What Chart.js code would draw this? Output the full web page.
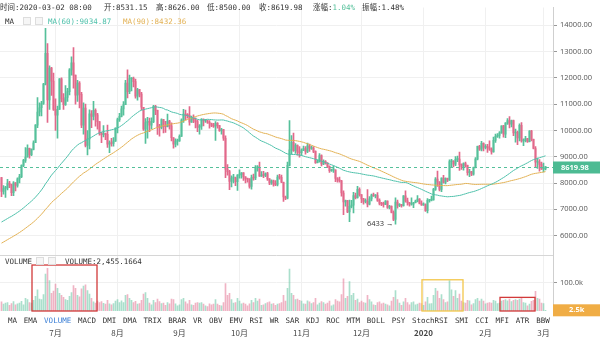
<!DOCTYPE html>
<html>
<head>
<meta charset="utf-8">
<script src="https://cdn.jsdelivr.net/npm/chart.js@4.4.0/dist/chart.umd.min.js"></script>
<style>
  body { margin: 0; background: #fff; }
  #wrap { position: relative; width: 600px; height: 341px; overflow: hidden; }
  #kline { position: absolute; left: 0; top: 0; }
  .txt { position: absolute; font-family: "DejaVu Sans Mono", "Noto Sans CJK SC", monospace; font-size: 7.5px; color: #333; white-space: nowrap; line-height: 9px; }
  .icon { position: absolute; width: 8px; height: 8px; border: 1px solid #ddd; background: #f6f6f6; box-sizing: border-box; }
  #tabs { position: absolute; left: 8px; top: 316px; width: 542px; display: flex; justify-content: space-between; }
</style>
</head>
<body>
<div id="wrap">
  <canvas id="kline" width="600" height="341"></canvas>

  <div class="txt" id="f-time" style="left:0;top:3px"></div>
  <div class="txt" id="f-open" style="left:104px;top:3px"></div>
  <div class="txt" id="f-high" style="left:156px;top:3px"></div>
  <div class="txt" id="f-low" style="left:207px;top:3px"></div>
  <div class="txt" id="f-close" style="left:259px;top:3px"></div>
  <div class="txt" id="f-chg" style="left:313px;top:3px"></div>
  <div class="txt" id="f-amp" style="left:362px;top:3px"></div>

  <div class="txt" style="left:5px;top:17px">MA</div>
  <div class="icon" style="left:23px;top:17px"></div>
  <div class="icon" style="left:35px;top:17px"></div>
  <div class="txt" id="ma60-label" style="left:48px;top:17px;color:#4fc1ab"></div>
  <div class="txt" id="ma90-label" style="left:123px;top:17px;color:#e3b255"></div>

  <div class="txt" style="left:5px;top:257px">VOLUME</div>
  <div class="icon" style="left:36px;top:257px"></div>
  <div class="icon" style="left:48px;top:257px"></div>
  <div class="txt" id="vol-label" style="left:65px;top:257px"></div>

  <div class="txt" id="tabs"></div>
</div>

<script>
// daily candles, first day 2019-06-04 (UTC 00:00 = 08:00 local)
const startDate = '2019-06-04';

// closes before the first candle, only used to seed the moving averages
const earlierCloses = [
    3870, 3880, 3860, 3940, 3920, 3870, 3880, 3870, 3870, 3910, 4000, 3980, 3990, 4020, 4040, 3980, 4000, 4010, 4000, 3940, 3950, 4040, 4040, 4110, 4110, 4110,
    4150, 4880, 4980, 4920, 5050, 5070, 5220, 5300, 5190, 5340, 5030, 5080, 5070, 5160, 5040, 5220, 5250, 5290, 5280, 5330, 5280, 5400, 5560, 5460, 5210, 5280, 5280, 5270, 5230, 5350,
    5400, 5500, 5780, 5840, 5790, 5770, 5860, 5990, 6200, 6380, 7260, 6980, 7810, 7980, 8200, 7890, 7350, 7260, 8190, 7980, 7960, 7640, 7880, 7990, 8050, 8680, 8800, 8720, 8660, 8280, 8550,
    8560, 8740, 8210
];

const closes = [
    // Jun
    7680, 7790, 7810, 8000, 7930, 7630, 8010, 7910, 8160, 8240, 8670, 8860, 8990, 9320, 9080, 9280, 9530, 10200, 10700, 10860, 11020, 11760, 12930, 11160, 12370, 11870, 10800,
    // Jul
    10580, 10800, 11960, 11200, 10980, 11250, 11470, 12300, 12570, 12100, 11340, 11800, 11370, 10200, 10850, 9430, 9680, 10630, 10530, 10760, 10590, 10330, 9900, 9840, 9880, 9850, 9480, 9530, 9500, 9590, 10090,
    // Aug
    10410, 10530, 10820, 10980, 11800, 11470, 11970, 11980, 11850, 11300, 11550, 11380, 10880, 10050, 10300, 10340, 10200, 10330, 10910, 10760, 10130, 10110, 10410, 10150, 10140, 10350, 10170, 9720, 9480, 9590, 9600,
    // Sep
    9770, 10390, 10620, 10580, 10570, 10310, 10480, 10400, 10330, 10110, 10160, 10400, 10360, 10360, 10310, 10260, 10190, 10160, 10270, 10180, 9990, 10030, 9700, 8530, 8430, 8060, 8190, 8200, 8050, 8300,
    // Oct
    8330, 8390, 8240, 8160, 8150, 7870, 8210, 8190, 8590, 8590, 8260, 8300, 8290, 8360, 8160, 8000, 8080, 7960, 7950, 8230, 8220, 8030, 7470, 7420, 8670, 9260, 9550, 9230, 9430, 9180, 9150,
    // Nov
    9250, 9310, 9200, 9410, 9310, 9340, 9200, 8770, 8810, 9040, 8730, 8820, 8760, 8630, 8470, 8500, 8500, 8170, 8120, 8080, 7620, 7280, 7330, 6900, 7110, 7160, 7520, 7440, 7760, 7560,
    // Dec
    7400, 7300, 7300, 7200, 7400, 7540, 7510, 7520, 7340, 7220, 7200, 7190, 7310.2, 7070, 7110, 6880, 6620, 7280, 7150, 7190, 7140, 7510, 7320, 7250, 7200, 7200, 7250, 7310, 7390, 7220, 7170,
    // Jan
    7180, 6950, 7340, 7350, 7360, 7760, 8150, 8040, 7761.07, 8190, 8020, 8180, 8110, 8810, 8820, 8720, 8900, 8910, 8700, 8630, 8740, 8670, 8390, 8430, 8340, 8600, 8910, 9390, 9290, 9510, 9350,
    // Feb
    9390, 9340, 9290, 9180, 9620, 9770, 9810, 9910, 10170, 9860, 10280, 10370, 10240, 10370, 9900, 9930, 9710, 10190, 9600, 9610, 9690, 9570, 9970, 9660, 9310, 8790, 8800, 8710, 8530,
    // Mar
    8531.15, 8619.98
];

const highs = [
    8215, 7900, 7870, 8140, 8060, 7960, 8050, 8020, 8200, 8330, 8690, 8900, 9350, 9450, 9330, 9300, 9600, 10220, 11250, 11050, 11100, 11790, 13880, 13300, 12450, 12400, 12180,
    11200, 10920, 11970, 12000, 11400, 11700, 11600, 12350, 12800, 13150, 12100, 11900, 11850, 11450, 11050, 11000, 9990, 10780, 10750, 11100, 10820, 10650, 10330, 9930, 10180, 9900, 10200, 9600, 9700, 9730, 10100,
    10470, 10650, 10920, 11090, 11900, 12300, 12100, 12000, 12030, 11950, 11600, 11560, 11450, 10880, 10450, 10500, 10470, 10480, 10950, 10950, 10770, 10230, 10440, 10420, 10340, 10620, 10380, 10290, 9730, 9680, 9670,
    9830, 10440, 10800, 10770, 10640, 10900, 10540, 10590, 10480, 10390, 10220, 10450, 10440, 10410, 10390, 10370, 10280, 10270, 10330, 10300, 10190, 10080, 10040, 9790, 8700, 8480, 8270, 8330, 8230, 8320,
    8500, 8400, 8400, 8230, 8180, 8170, 8300, 8340, 8660, 8660, 8800, 8430, 8440, 8390, 8410, 8170, 8120, 8110, 8090, 8300, 8330, 8300, 8040, 7500, 8800, 10370, 9800, 9900, 9500, 9450, 9380,
    9300, 9400, 9380, 9520, 9480, 9400, 9380, 9220, 8880, 9120, 9070, 8880, 8850, 8780, 8650, 8530, 8640, 8500, 8210, 8230, 8100, 7700, 7350, 7340, 7350, 7340, 7650, 7620, 7870, 7820,
    7560, 7420, 7400, 7750, 7480, 7580, 7620, 7560, 7640, 7400, 7270, 7280, 7330, 7320, 7150, 7130, 6940, 7440, 7350, 7220, 7190, 7520, 7700, 7430, 7270, 7440, 7270, 7350, 7520, 7410, 7320,
    7250, 7210, 7410, 7380, 7500, 7800, 8210, 8450, 8050, 8200, 8290, 8200, 8190, 8880, 8900, 8850, 9000, 9020, 9180, 8730, 8770, 8800, 8680, 8520, 8440, 8610, 8970, 9400, 9430, 9580, 9530,
    9460, 9470, 9600, 9340, 9750, 9860, 9880, 9950, 10170, 10190, 10300, 10450, 10520, 10390, 10390, 10050, 9970, 10250, 10300, 9680, 9770, 9700, 9990, 10000, 9670, 9380, 8950, 8890, 8800,
    8760, 8626
];

const lows = [
    7480, 7580, 7450, 7740, 7820, 7520, 7520, 7700, 7840, 8000, 8200, 8620, 8780, 8980, 8940, 9040, 9260, 9530, 10100, 10550, 10550, 10990, 11730, 10300, 10800, 11330, 10760,
    10000, 9700, 10800, 11080, 10800, 10950, 11100, 11350, 12100, 11600, 11000, 11100, 10850, 10100, 9860, 9370, 9070, 9300, 10100, 10400, 10160, 10050, 9820, 9530, 9750, 9650, 9350, 9150, 9400, 9400, 9580,
    9900, 10340, 10510, 10580, 10980, 11230, 11400, 11500, 11650, 11220, 11150, 11270, 10780, 10000, 9500, 9700, 9950, 10060, 10290, 10600, 9850, 9780, 10060, 9900, 9920, 10130, 10050, 9600, 9320, 9370, 9440,
    9580, 9770, 10300, 10400, 10460, 10200, 10300, 10290, 10090, 9950, 9860, 10040, 10170, 10300, 10260, 10080, 10140, 10110, 9620, 10080, 9960, 9860, 9620, 8200, 8300, 7750, 7850, 8000, 7900, 7720,
    8180, 8180, 8100, 8000, 8030, 7800, 7770, 8110, 8130, 8450, 8250, 8250, 8200, 8240, 8100, 7940, 7950, 7880, 7900, 7890, 8150, 8010, 7300, 7370, 7400, 8650, 9100, 9200, 9120, 9060, 8980,
    9050, 9230, 9100, 9150, 9200, 9280, 9150, 8740, 8760, 8790, 8650, 8700, 8720, 8580, 8400, 8440, 8400, 8050, 8030, 8030, 7500, 6800, 7120, 6870, 6530, 7050, 6860, 7400, 7420, 7500,
    7250, 7200, 7240, 7090, 7170, 7320, 7490, 7430, 7300, 7170, 7140, 7080, 7180, 7030, 7020, 6860, 6570, 6433, 7040, 7100, 7080, 7120, 7270, 7160, 7120, 7160, 7060, 7240, 7280, 7210, 7150,
    7150, 6920, 6860, 7270, 7320, 7350, 7720, 7870, 7700, 7670, 7990, 7970, 8050, 8100, 8580, 8610, 8660, 8810, 8480, 8520, 8490, 8600, 8300, 8240, 8280, 8300, 8570, 8880, 9240, 9220, 9220,
    9300, 9160, 9240, 9100, 9170, 9540, 9730, 9700, 9880, 9740, 9720, 10230, 10090, 10130, 9800, 9550, 9460, 9600, 9550, 9420, 9560, 9540, 9560, 9600, 9300, 8600, 8550, 8450, 8520,
    8420, 8500
];

// volume in thousands
const volumes = [
    32, 24, 28, 30, 20, 26, 33, 22, 25, 28, 34, 22, 45, 40, 30, 28, 38, 52, 75, 42, 40, 58, 130, 150, 107, 62, 70,
    95, 80, 62, 55, 48, 40, 38, 52, 65, 90, 80, 55, 50, 78, 88, 92, 72, 60, 45, 32, 28, 35, 30, 33, 27, 24, 38, 25, 22, 26, 35,
    40, 30, 36, 30, 55, 58, 45, 38, 30, 34, 24, 26, 38, 60, 65, 45, 28, 22, 38, 30, 42, 33, 26, 28, 20, 30, 25, 42, 40, 25, 18,
    22, 40, 45, 32, 25, 38, 22, 20, 28, 30, 28, 30, 24, 18, 16, 25, 22, 24, 40, 24, 20, 18, 30, 97, 55, 62, 40, 28, 30, 45,
    35, 25, 28, 24, 18, 25, 38, 30, 45, 35, 42, 20, 22, 26, 30, 32, 24, 26, 20, 24, 26, 30, 55, 35, 80, 148, 62, 55, 40, 42, 38,
    35, 25, 24, 36, 32, 26, 30, 45, 22, 28, 33, 30, 24, 28, 35, 18, 22, 40, 35, 32, 58, 113, 45, 52, 104, 55, 62, 38, 42, 30,
    35, 30, 28, 55, 40, 32, 22, 20, 30, 32, 25, 28, 24, 22, 18, 35, 48, 72, 40, 28, 20, 32, 45, 30, 22, 30, 32, 22, 24, 28, 26,
    20, 32, 48, 25, 26, 55, 80, 70, 45, 58, 40, 30, 32, 107, 75, 52, 72, 45, 60, 35, 30, 28, 38, 36, 22, 26, 40, 45, 35, 42, 35,
    25, 28, 30, 28, 38, 35, 26, 28, 35, 38, 40, 36, 42, 33, 38, 40, 38, 42, 45, 30, 28, 18, 24, 34, 38, 69, 45, 42, 28,
    26, 2.4551664
];

const maPeriods = [60, 90];
const maColors = ['#4fc1ab', '#e3b255'];

const priceTicks = [6000, 7000, 8000, 9000, 10000, 11000, 12000, 13000, 14000];
const volumeTicks = [100];

const monthStarts = ['2019-07-01', '2019-08-01', '2019-09-01', '2019-10-01', '2019-11-01', '2019-12-01', '2020-01-01', '2020-02-01', '2020-03-01'];
const monthLabels = ['7月', '8月', '9月', '10月', '11月', '12月', '2020', '2月', '3月'];

const indicatorTabs = ['MA', 'EMA', 'VOLUME', 'MACD', 'DMI', 'DMA', 'TRIX', 'BRAR', 'VR', 'OBV', 'EMV', 'RSI', 'WR', 'SAR', 'KDJ', 'ROC', 'MTM', 'BOLL', 'PSY', 'StochRSI', 'SMI', 'CCI', 'MFI', 'ATR', 'BBW'];

// marked volume stretches (volume top in thousands)
const volumeBoxes = [
    { from: '2019-06-20', to: '2019-07-21', top: 162, color: '#d23a3a' },
    { from: '2020-01-01', to: '2020-01-20', top: 110, color: '#f3c64a' },
    { from: '2020-02-09', to: '2020-02-25', top: 48, color: '#d23a3a' }
];

const UP = '#55c09a';
const DOWN = '#e2688a';
const UP_VOL = 'rgba(85, 192, 154, 0.5)';
const DOWN_VOL = 'rgba(226, 104, 138, 0.5)';

const DAY = 86400000;
function dayIndex(d) {
    return Math.round((Date.parse(d) - Date.parse(startDate)) / DAY);
}

const opens = closes.map((c, i) => i === 0 ? earlierCloses[earlierCloses.length - 1] : closes[i - 1]);
const isUp = closes.map((c, i) => c >= opens[i]);
const allCloses = earlierCloses.concat(closes);

function movingAverage(n) {
    const off = earlierCloses.length;
    return closes.map((c, i) => {
        let sum = 0;
        for (let k = off + i - n + 1; k <= off + i; k++) sum += allCloses[k];
        return { x: i, y: sum / n };
    });
}

const last = closes.length - 1;
const maLines = maPeriods.map(n => movingAverage(n));
const monthTickIdx = monthStarts.map(dayIndex);

// header texts
const lastDate = new Date(Date.parse(startDate) + last * DAY).toISOString().slice(0, 10);
document.getElementById('f-time').textContent = '时间:' + lastDate + ' 08:00';
document.getElementById('f-open').textContent = '开:' + opens[last].toFixed(2);
document.getElementById('f-high').textContent = '高:' + highs[last].toFixed(2);
document.getElementById('f-low').textContent = '低:' + lows[last].toFixed(2);
document.getElementById('f-close').textContent = '收:' + closes[last].toFixed(2);
const chg = (closes[last] - opens[last]) / opens[last] * 100;
const amp = (highs[last] - lows[last]) / opens[last] * 100;
document.getElementById('f-chg').innerHTML = '涨幅:<span style="color:' + UP + '">' + chg.toFixed(2) + '%</span>';
document.getElementById('f-amp').textContent = '振幅:' + amp.toFixed(2) + '%';
document.getElementById('ma60-label').textContent = 'MA(' + maPeriods[0] + '):' + maLines[0][last].y.toFixed(2);
document.getElementById('ma90-label').textContent = 'MA(' + maPeriods[1] + '):' + maLines[1][last].y.toFixed(2);
document.getElementById('vol-label').textContent = 'VOLUME:' + (volumes[last] * 1000).toLocaleString('en-US', { minimumFractionDigits: 4, maximumFractionDigits: 4 });

const tabs = document.getElementById('tabs');
indicatorTabs.forEach(t => {
    const s = document.createElement('span');
    s.textContent = t;
    if (t === 'VOLUME') s.style.color = '#3b7fd6';
    tabs.appendChild(s);
});

const overlay = {
    id: 'overlay',
    afterDatasetsDraw(chart) {
        const { ctx, chartArea } = chart;
        const x = chart.scales.x, y = chart.scales.y, yv = chart.scales.yv;
        ctx.save();

        // separator between price and volume panes
        ctx.strokeStyle = '#d6d6d6';
        ctx.lineWidth = 1;
        ctx.beginPath();
        ctx.moveTo(0, Math.round(yv.top) + 0.5);
        ctx.lineTo(chartArea.right, Math.round(yv.top) + 0.5);
        ctx.stroke();

        // last price line
        const py = Math.round(y.getPixelForValue(closes[last])) + 0.5;
        ctx.strokeStyle = UP;
        ctx.setLineDash([3, 3]);
        ctx.beginPath();
        ctx.moveTo(chartArea.left, py);
        ctx.lineTo(chartArea.right, py);
        ctx.stroke();
        ctx.setLineDash([]);

        // lowest low marker
        let lo = 0;
        lows.forEach((v, i) => { if (v < lows[lo]) lo = i; });
        ctx.fillStyle = '#333';
        ctx.font = '7.5px "Open Sans", sans-serif';
        ctx.textAlign = 'right';
        ctx.textBaseline = 'middle';
        ctx.fillText(lows[lo] + ' →', x.getPixelForValue(lo) - 2, y.getPixelForValue(lows[lo]));

        // volume boxes
        volumeBoxes.forEach(b => {
            const l = x.getPixelForValue(dayIndex(b.from)) - 1.5;
            const r = x.getPixelForValue(dayIndex(b.to)) + 1.5;
            const t = yv.getPixelForValue(b.top);
            ctx.strokeStyle = b.color;
            ctx.lineWidth = 1.3;
            ctx.strokeRect(l, t, r - l, yv.bottom - t);
        });

        // axis value tags
        ctx.textAlign = 'left';
        ctx.font = 'bold 7.5px "Open Sans", sans-serif';
        ctx.fillStyle = '#4dbb93';
        ctx.fillRect(chartArea.right, py - 6, 47, 12);
        ctx.fillStyle = '#fff';
        ctx.fillText(closes[last].toFixed(2), chartArea.right + 8, py);

        const vy = yv.getPixelForValue(volumes[last]);
        ctx.fillStyle = '#f0ad45';
        ctx.fillRect(chartArea.right, vy - 6, 47, 12);
        ctx.fillStyle = '#fff';
        ctx.fillText(volumes[last].toFixed(1) + 'k', chartArea.right + 16, vy);

        ctx.restore();
    }
};

const axisFont = { family: '"Open Sans", sans-serif', size: 7.5 };

new Chart(document.getElementById('kline').getContext('2d'), {
    type: 'bar',
    data: {
        datasets: [
            {
                type: 'line', data: maLines[0], yAxisID: 'y', borderColor: maColors[0],
                borderWidth: 1, pointRadius: 0, order: 0
            },
            {
                type: 'line', data: maLines[1], yAxisID: 'y', borderColor: maColors[1],
                borderWidth: 1, pointRadius: 0, order: 0
            },
            {
                data: closes.map((c, i) => ({ x: i, y: [lows[i], highs[i]] })),
                yAxisID: 'y', backgroundColor: isUp.map(u => u ? UP : DOWN),
                barThickness: 1, grouped: false, order: 2
            },
            {
                data: closes.map((c, i) => ({ x: i, y: [opens[i], c] })),
                yAxisID: 'y', backgroundColor: isUp.map(u => u ? UP : DOWN),
                barThickness: 1.2, minBarLength: 1, grouped: false, order: 1
            },
            {
                data: volumes.map((v, i) => ({ x: i, y: v })),
                yAxisID: 'yv', backgroundColor: isUp.map(u => u ? UP_VOL : DOWN_VOL),
                barThickness: 1, grouped: false, order: 3
            }
        ]
    },
    options: {
        responsive: false,
        animation: false,
        layout: { padding: 0 },
        plugins: { legend: { display: false }, tooltip: { enabled: false } },
        scales: {
            x: {
                type: 'linear', min: -0.75, max: 275.75, offset: false,
                grid: { color: '#f0f0f0', drawTicks: false, offset: false },
                border: { display: false },
                afterBuildTicks: s => { s.ticks = monthTickIdx.map(v => ({ value: v })); },
                afterFit: s => { s.height = 30; },
                ticks: {
                    autoSkip: false, maxRotation: 0, padding: 17, color: '#444',
                    callback: v => monthLabels[monthTickIdx.indexOf(v)],
                    font: c => ({
                        family: '"Noto Sans CJK SC", sans-serif', size: 8,
                        weight: c.tick && c.tick.value === dayIndex('2020-01-01') ? 'bold' : 'normal'
                    })
                }
            },
            y: {
                type: 'linear', position: 'right', stack: 'pane', stackWeight: 254,
                min: 5250, max: 14670,
                grid: { color: '#f0f0f0', tickLength: 4, tickColor: '#999' },
                border: { color: '#cfcfcf' },
                afterBuildTicks: s => { s.ticks = priceTicks.map(v => ({ value: v })); },
                afterFit: s => { s.width = 47; },
                ticks: { padding: 3, color: '#555', font: axisFont, callback: v => v.toFixed(2) }
            },
            yv: {
                type: 'linear', position: 'right', stack: 'pane', stackWeight: 57,
                min: 0, max: 196,
                grid: { color: '#f0f0f0', tickLength: 4, tickColor: '#999' },
                border: { color: '#cfcfcf' },
                afterBuildTicks: s => { s.ticks = volumeTicks.map(v => ({ value: v })); },
                afterFit: s => { s.width = 47; },
                ticks: { padding: 3, color: '#555', font: axisFont, callback: v => v.toFixed(1) + 'k' }
            }
        }
    },
    plugins: [overlay]
});
</script>
</body>
</html>
